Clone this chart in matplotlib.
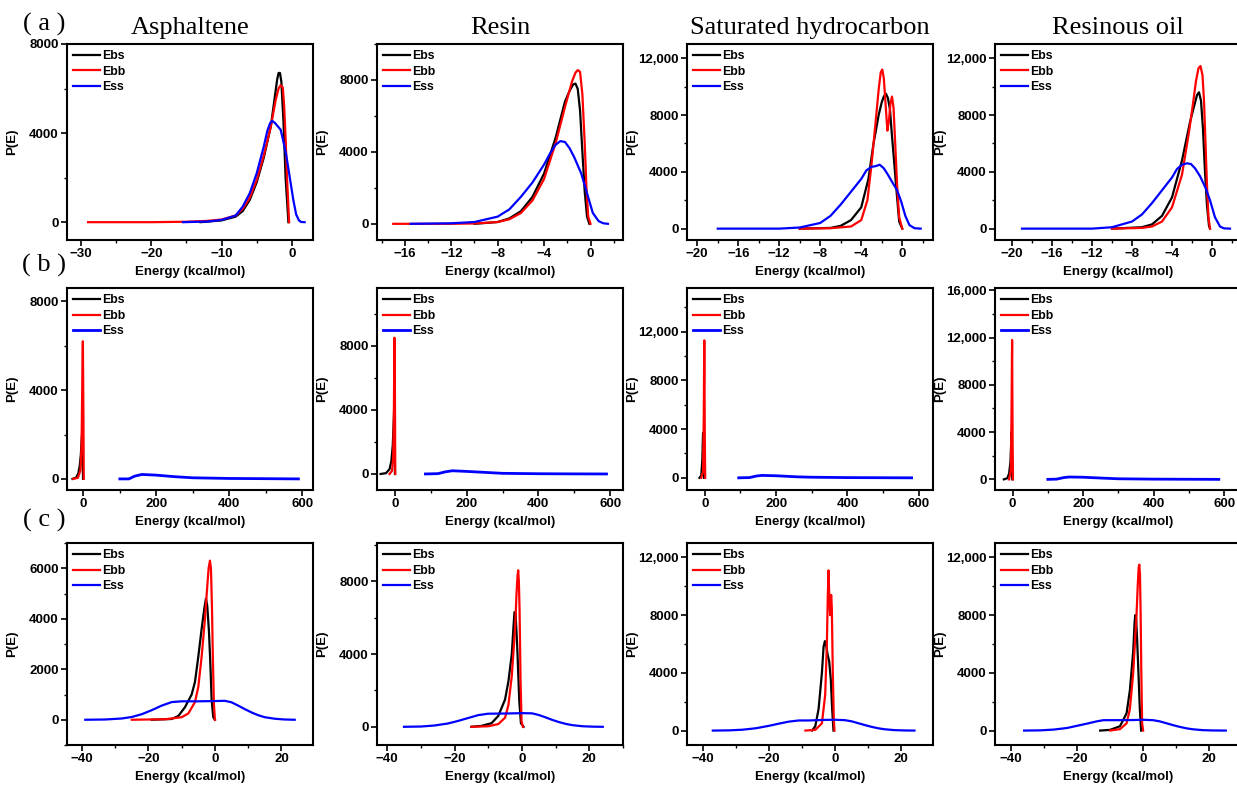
import matplotlib.pyplot as plt
from matplotlib.ticker import AutoMinorLocator, FuncFormatter

plt.rcParams['font.family'] = ['Liberation Sans', 'DejaVu Sans']
plt.rcParams['font.weight'] = 'bold'

titles = ['Asphaltene', 'Resin', 'Saturated hydrocarbon', 'Resinous oil']
row_tags = ['( a )', '( b )', '( c )']
series_names = ['Ebs', 'Ebb', 'Ess']
series_colors = ['black', 'red', 'blue']

# ---- row (a) : (energy, P(E))
a_asph_ebs = [(-13, 0), (-10, 80), (-8, 250), (-7, 500), (-6, 1000), (-5, 1800), (-4, 2900), (-3, 4300),
              (-2.4, 5700), (-2.1, 6400), (-1.9, 6700), (-1.7, 6700), (-1.5, 6300), (-1.2, 4500),
              (-0.9, 2000), (-0.5, 0)]
a_asph_ebb = [(-29, 0), (-20, 0), (-15, 20), (-12, 60), (-10, 120), (-8, 300), (-7, 600), (-6, 1100),
              (-5, 1900), (-4, 3000), (-3, 4300), (-2.3, 5500), (-1.9, 6000), (-1.6, 6150), (-1.3, 6050),
              (-1.1, 5200), (-0.9, 3800), (-0.7, 2000), (-0.4, 0)]
a_asph_ess = [(-15.5, 0), (-12, 30), (-10, 100), (-8, 300), (-7, 700), (-6, 1300), (-5, 2200), (-4, 3400),
              (-3.5, 4100), (-3.1, 4450), (-2.8, 4550), (-2.4, 4450), (-2.0, 4300), (-1.6, 4150),
              (-1.2, 3600), (-0.8, 3000), (-0.3, 2000), (0.2, 1000), (0.6, 350), (1.0, 80), (1.3, 10), (1.8, 0)]

a_resin_ebs = [(-10, 0), (-8, 100), (-7, 300), (-6, 700), (-5, 1500), (-4, 2800), (-3, 4800), (-2.2, 6800),
               (-1.8, 7400), (-1.5, 7750), (-1.3, 7800), (-1.1, 7500), (-0.9, 6300), (-0.7, 4000),
               (-0.5, 1800), (-0.3, 400), (-0.1, 0)]
a_resin_ebb = [(-17, 0), (-12, 0), (-10, 20), (-8, 100), (-7, 250), (-6, 600), (-5, 1300), (-4, 2500),
               (-3, 4500), (-2.2, 6500), (-1.6, 7900), (-1.3, 8400), (-1.1, 8550), (-0.9, 8450), (-0.7, 7200),
               (-0.5, 4500), (-0.35, 2000), (-0.2, 400), (0, 0)]
a_resin_ess = [(-15.5, 0), (-12, 30), (-10, 100), (-8, 400), (-7, 800), (-6, 1500), (-5, 2300), (-4, 3300),
               (-3.5, 3900), (-3.0, 4400), (-2.6, 4600), (-2.2, 4550), (-1.8, 4200), (-1.4, 3700),
               (-0.8, 2800), (-0.3, 1700), (0.2, 600), (0.7, 150), (1.1, 30), (1.5, 0)]

a_sat_ebs = [(-10, 0), (-7, 50), (-6, 200), (-5, 600), (-4, 1500), (-3.3, 3500), (-2.8, 6000), (-2.3, 8000),
             (-2.0, 8900), (-1.8, 9300), (-1.6, 9500), (-1.4, 9200), (-1.2, 8400), (-1.0, 6500),
             (-0.8, 4800), (-0.6, 3000), (-0.3, 500), (0, 0)]
a_sat_ebb = [(-10, 0), (-7, 30), (-5, 150), (-4, 600), (-3.4, 2000), (-3.0, 4500), (-2.6, 7500), (-2.3, 9800),
             (-2.1, 11000), (-1.95, 11200), (-1.8, 10600), (-1.6, 8500), (-1.45, 6900), (-1.3, 7600),
             (-1.15, 8800), (-1.0, 9300), (-0.85, 8500), (-0.7, 6200), (-0.5, 3000), (-0.3, 800), (0, 0)]
a_sat_ess = [(-18, 0), (-12, 0), (-10, 80), (-8, 400), (-7, 900), (-6, 1700), (-5, 2600), (-4, 3500),
             (-3.5, 4100), (-3.0, 4350), (-2.6, 4400), (-2.2, 4500), (-1.8, 4250), (-1.4, 3800),
             (-1.0, 3300), (-0.5, 2700), (-0.1, 1900), (0.3, 900), (0.7, 250), (1.2, 30), (1.8, 0)]

a_oil_ebs = [(-10, 0), (-7, 100), (-6, 300), (-5, 900), (-4, 2200), (-3, 4800), (-2.2, 7500), (-1.8, 8600),
             (-1.5, 9400), (-1.3, 9600), (-1.1, 9000), (-0.9, 7000), (-0.7, 4000), (-0.5, 1600),
             (-0.3, 200), (-0.2, 0)]
a_oil_ebb = [(-10, 0), (-7, 50), (-6, 150), (-5, 500), (-4, 1500), (-3, 3800), (-2.3, 6800), (-1.9, 8800),
             (-1.6, 10400), (-1.35, 11300), (-1.15, 11450), (-0.95, 10800), (-0.8, 9000), (-0.65, 6000),
             (-0.5, 3000), (-0.35, 800), (-0.2, 0)]
a_oil_ess = [(-19, 0), (-12, 0), (-10, 100), (-8, 500), (-7, 1000), (-6, 1800), (-5, 2700), (-4, 3600),
             (-3.5, 4200), (-3.0, 4500), (-2.5, 4600), (-2.1, 4550), (-1.7, 4250), (-1.2, 3700),
             (-0.6, 2800), (-0.2, 2000), (0.3, 800), (0.8, 150), (1.2, 20), (1.8, 0)]

# ---- row (b)
b_asph_ebs = [(-30, 0), (-20, 60), (-14, 250), (-10, 600), (-7, 1100), (-5, 1700), (-3.5, 2100), (-2, 800), (-1, 0)]
b_asph_ebb = [(-28, 0), (-15, 50), (-8, 400), (-5, 1500), (-3, 4500), (-1.5, 6200), (0, 3000), (1, 0)]
b_asph_ess = [(100, 0), (125, 0), (140, 120), (160, 200), (200, 170), (250, 100), (300, 50), (400, 20),
              (500, 10), (590, 0)]

b_resin_ebs = [(-40, 0), (-25, 50), (-15, 300), (-10, 800), (-6, 1800), (-3, 3500), (-1, 5000), (0, 0)]
b_resin_ebb = [(-15, 0), (-8, 200), (-5, 1000), (-3, 3500), (-1.5, 8500), (0, 5000), (1, 0)]
b_resin_ess = [(85, 0), (120, 20), (140, 130), (160, 200), (200, 160), (250, 100), (300, 40), (400, 15),
               (500, 5), (590, 0)]

b_sat_ebs = [(-15, 0), (-10, 200), (-7, 1500), (-5, 3700), (-3, 3700), (-2, 0)]
b_sat_ebb = [(-10, 0), (-5, 500), (-3, 5000), (-1.5, 11300), (0, 3000), (1, 0)]
b_sat_ess = [(95, 0), (125, 20), (145, 150), (160, 200), (200, 170), (260, 80), (300, 50), (400, 20), (580, 0)]

b_oil_ebs = [(-25, 0), (-15, 100), (-10, 500), (-6, 1500), (-3, 4000), (-1, 0)]
b_oil_ebb = [(-10, 0), (-5, 800), (-3, 6000), (-1.5, 11800), (0, 3000), (1, 0)]
b_oil_ess = [(100, 0), (125, 20), (145, 150), (160, 200), (200, 180), (260, 100), (300, 50), (400, 20), (585, 0)]

# ---- row (c)
c_asph_ebs = [(-19, 0), (-13, 30), (-11, 150), (-9, 500), (-7, 1000), (-6, 1500), (-5, 2500), (-4, 3600),
              (-3.2, 4400), (-2.7, 4800), (-2.3, 4500), (-1.8, 3500), (-1.4, 2300), (-1, 800),
              (-0.5, 100), (0, 0)]
c_asph_ebb = [(-25, 0), (-15, 20), (-10, 100), (-8, 250), (-6, 700), (-5, 1300), (-4, 2500), (-3, 4000),
              (-2.3, 5300), (-1.9, 6000), (-1.5, 6300), (-1.2, 6000), (-0.9, 4500), (-0.6, 2300),
              (-0.3, 600), (0, 0)]
c_asph_ess = [(-39, 0), (-33, 10), (-28, 50), (-25, 110), (-22, 220), (-19, 380), (-16, 560), (-13, 700),
              (-10, 730), (-5, 730), (0, 740), (3, 750), (5, 690), (7, 560), (9, 420), (11, 290), (13, 180),
              (15, 100), (18, 40), (21, 10), (24, 0)]

c_resin_ebs = [(-15, 0), (-12, 50), (-9, 200), (-7, 600), (-5, 1500), (-4, 2500), (-3, 4000), (-2.5, 5500),
               (-2.2, 6300), (-1.9, 6250), (-1.6, 5200), (-1.3, 4000), (-0.8, 1500), (-0.3, 200), (0.5, 0)]
c_resin_ebb = [(-15, 0), (-10, 30), (-7, 150), (-5, 500), (-4, 1200), (-3, 2800), (-2, 5500), (-1.6, 7300),
               (-1.3, 8300), (-1.1, 8600), (-0.9, 8000), (-0.7, 6500), (-0.4, 2500), (-0.1, 300), (0.3, 0)]
c_resin_ess = [(-35, 0), (-30, 15), (-26, 70), (-22, 180), (-19, 320), (-16, 480), (-13, 640), (-10, 720),
               (-5, 730), (0, 750), (3, 740), (5, 650), (7, 520), (9, 380), (11, 260), (13, 160), (15, 90),
               (18, 30), (21, 8), (24, 0)]

c_sat_ebs = [(-7, 0), (-6, 300), (-5, 1500), (-4, 4000), (-3.5, 5800), (-3.1, 6200), (-2.7, 5900),
             (-2.3, 5300), (-1.8, 4800), (-1.3, 3500), (-0.9, 1500), (-0.5, 0)]
c_sat_ebb = [(-9, 0), (-6, 50), (-4, 500), (-3, 2500), (-2.5, 6000), (-2.2, 9500), (-2.0, 11100), (-1.8, 9500),
             (-1.5, 8000), (-1.2, 9400), (-1.0, 8500), (-0.7, 4000), (-0.4, 800), (-0.2, 0)]
c_sat_ess = [(-37, 0), (-32, 15), (-28, 60), (-24, 160), (-20, 330), (-17, 480), (-14, 620), (-11, 700),
             (-8, 700), (-3, 740), (0, 750), (3, 720), (5, 640), (7, 510), (9, 380), (11, 260), (13, 160),
             (15, 90), (18, 30), (21, 8), (24, 0)]

c_oil_ebs = [(-13, 0), (-10, 50), (-7, 300), (-5, 1200), (-4, 2800), (-3, 5500), (-2.6, 7400), (-2.4, 8000),
             (-2.1, 7700), (-1.8, 6200), (-1.5, 4500), (-1.0, 1500), (-0.6, 0)]
c_oil_ebb = [(-10, 0), (-7, 100), (-5, 500), (-4, 1500), (-3, 4000), (-2, 8000), (-1.6, 10200), (-1.35, 11300),
             (-1.15, 11500), (-0.95, 10800), (-0.75, 8000), (-0.55, 4000), (-0.3, 500), (0, 0)]
c_oil_ess = [(-36, 0), (-31, 15), (-27, 70), (-23, 180), (-20, 330), (-17, 480), (-14, 640), (-12, 720),
             (-8, 720), (-3, 730), (0, 750), (3, 720), (5, 640), (7, 510), (9, 380), (11, 260), (13, 160),
             (15, 90), (18, 30), (21, 8), (25, 0)]

panels = [
    [(a_asph_ebs, a_asph_ebb, a_asph_ess), (a_resin_ebs, a_resin_ebb, a_resin_ess),
     (a_sat_ebs, a_sat_ebb, a_sat_ess), (a_oil_ebs, a_oil_ebb, a_oil_ess)],
    [(b_asph_ebs, b_asph_ebb, b_asph_ess), (b_resin_ebs, b_resin_ebb, b_resin_ess),
     (b_sat_ebs, b_sat_ebb, b_sat_ess), (b_oil_ebs, b_oil_ebb, b_oil_ess)],
    [(c_asph_ebs, c_asph_ebb, c_asph_ess), (c_resin_ebs, c_resin_ebb, c_resin_ess),
     (c_sat_ebs, c_sat_ebb, c_sat_ess), (c_oil_ebs, c_oil_ebb, c_oil_ess)],
]

# axis settings per panel
xlims = [[(-32, 3), (-18.4, 2.8), (-21, 3), (-21.7, 2.9)],
         [(-45, 630), (-50, 636), (-50, 640), (-50, 648)],
         [(-44.5, 29.5), (-43, 30), (-44.8, 29.6), (-44.8, 29.6)]]
ylims = [[(-800, 8000), (-900, 10000), (-800, 13000), (-800, 13000)],
         [(-500, 8600), (-1000, 11600), (-1000, 15600), (-900, 16200)],
         [(-1000, 7000), (-1000, 10100), (-1000, 13000), (-1000, 13000)]]
xticks = [[[-30, -20, -10, 0], [-16, -12, -8, -4, 0], [-20, -16, -12, -8, -4, 0], [-20, -16, -12, -8, -4, 0]],
          [[0, 200, 400, 600]] * 4,
          [[-40, -20, 0, 20]] * 4]
yticks = [[[0, 4000, 8000], [0, 4000, 8000], [0, 4000, 8000, 12000], [0, 4000, 8000, 12000]],
          [[0, 4000, 8000], [0, 4000, 8000], [0, 4000, 8000, 12000], [0, 4000, 8000, 12000, 16000]],
          [[0, 2000, 4000, 6000], [0, 4000, 8000], [0, 4000, 8000, 12000], [0, 4000, 8000, 12000]]]

W, H = 1237, 785
col_left = [67, 377, 687, 995]
row_top = [44, 288, 543]
row_bot = [240, 490, 745]
ax_w = 246


def fmt_y(v, pos):
    return f'{v:,.0f}' if abs(v) >= 10000 else f'{v:.0f}'


fig = plt.figure(figsize=(W / 100, H / 100), dpi=100)
for r in range(3):
    for c in range(4):
        ax = fig.add_axes([col_left[c] / W, 1 - row_bot[r] / H, ax_w / W, (row_bot[r] - row_top[r]) / H])
        for pts, name, col in zip(panels[r][c], series_names, series_colors):
            xs, ys = zip(*pts)
            lw = 2.0 if (r == 1 and name == 'Ess') else 1.6
            ax.plot(xs, ys, color=col, lw=lw, label=name)
        ax.set_xlim(*xlims[r][c])
        ax.set_ylim(*ylims[r][c])
        ax.set_xticks(xticks[r][c])
        ax.set_yticks(yticks[r][c])
        ax.yaxis.set_major_formatter(FuncFormatter(fmt_y))
        ax.xaxis.set_minor_locator(AutoMinorLocator(2))
        ax.yaxis.set_minor_locator(AutoMinorLocator(2))
        ax.tick_params(which='major', direction='out', length=4, width=1.2, labelsize=9.5, pad=2)
        ax.tick_params(which='minor', direction='out', length=2.5, width=1.0)
        for s in ax.spines.values():
            s.set_linewidth(1.5)
        ax.set_xlabel('Energy (kcal/mol)', fontsize=9.5, fontweight='bold', labelpad=4)
        ax.set_ylabel('P(E)', fontsize=9.5, fontweight='bold')
        ax.yaxis.set_label_coords(-0.2, 0.5)
        ax.legend(loc='upper left', frameon=False, fontsize=8.8, handlelength=2.2, handletextpad=0.2,
                  labelspacing=0.3, borderaxespad=0.2, borderpad=0.3)
        if r == 0:
            ax.set_title(titles[c], fontsize=19, family=['Liberation Serif', 'DejaVu Serif'],
                         fontweight='normal', pad=7)

tag_y = [24, 265, 520]
for r in range(3):
    fig.text(44 / W, 1 - tag_y[r] / H, row_tags[r], fontsize=19, ha='center', va='center',
             family=['Liberation Serif', 'DejaVu Serif'], fontweight='normal')

fig.savefig('out.png', dpi=100, facecolor='white')
